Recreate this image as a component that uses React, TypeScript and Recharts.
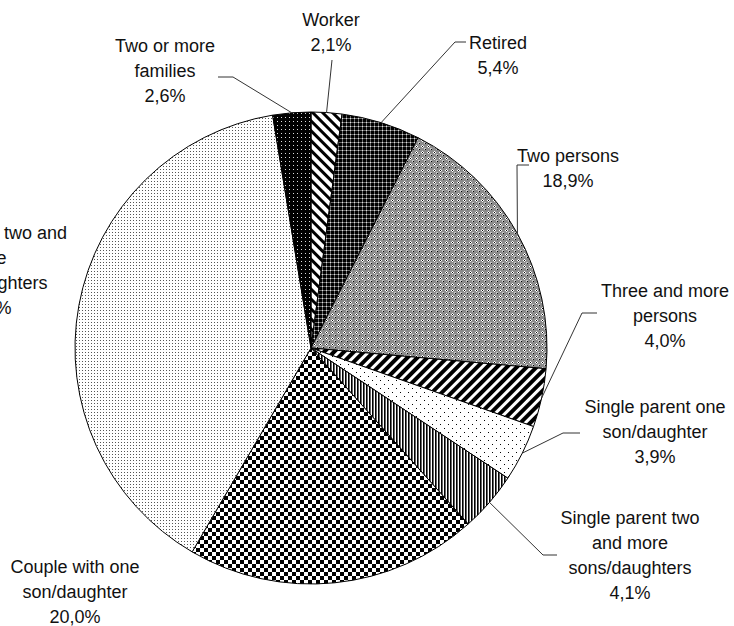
import React from 'react';
import { PieChart, Pie, Cell } from 'recharts';

// Household types, clockwise from twelve o'clock
const categories = [
  'Worker',
  'Retired',
  'Two persons',
  'Three and more persons',
  'Single parent one son/daughter',
  'Single parent two and more sons/daughters',
  'Couple with one son/daughter',
  'Couple with two and more sons/daughters',
  'Two or more families',
];

// Share of households, in percent
const shares = [2.1, 5.4, 18.9, 4.0, 3.9, 4.1, 20.0, 39.0, 2.6];

// How each category name is broken over lines in its label
const labelLines = [
  ['Worker'],
  ['Retired'],
  ['Two persons'],
  ['Three and more', 'persons'],
  ['Single parent one', 'son/daughter'],
  ['Single parent two', 'and more', 'sons/daughters'],
  ['Couple with one', 'son/daughter'],
  ['Couple with two and', 'more', 'sons/daughters'],
  ['Two or more', 'families'],
];

// Fill pattern of each slice (ids of the <pattern> defs below)
const fills = [
  'url(#pWorker)',
  'url(#pRetired)',
  'url(#pTwoPersons)',
  'url(#pThreeMore)',
  'url(#pSingleOne)',
  'url(#pSingleTwo)',
  'url(#pCoupleOne)',
  'url(#pCoupleTwo)',
  'url(#pFamilies)',
];

// Label placement: text centre x, centre y of first line, and leader elbow points
type Layout = { x: number; y: number; leader: [number, number][] | null };
const labelLayout: Layout[] = [
  { x: 331, y: 19, leader: [[332, 60]] },
  { x: 498, y: 42, leader: [[455, 42], [466, 42]] },
  { x: 568, y: 155, leader: [[517, 165], [529, 165]] },
  { x: 665, y: 290, leader: [[582, 313], [597, 313]] },
  { x: 655, y: 406, leader: [[563, 433], [580, 433]] },
  { x: 630, y: 517, leader: [[543, 555], [557, 555]] },
  { x: 75, y: 566, leader: null },
  { x: -14, y: 232, leader: null },
  { x: 165, y: 45, leader: [[233, 77], [218, 77]] },
];

const FONT = '"Liberation Sans", Arial, sans-serif';
const FONT_SIZE = 18;
const LINE_GAP = 25.2;

const data = categories.map((name, i) => ({ name, value: shares[i] }));

const formatShare = (v: number) => v.toFixed(1).replace('.', ',') + '%';

const RAD = Math.PI / 180;

function renderLabel(props: any) {
  const { cx, cy, midAngle, outerRadius, index } = props;
  const value = typeof props.value === 'number' ? props.value : shares[index];
  const lay = labelLayout[index];
  const lines = [...labelLines[index], formatShare(value)];
  const ex = cx + outerRadius * Math.cos(-midAngle * RAD);
  const ey = cy + outerRadius * Math.sin(-midAngle * RAD);
  let points = '';
  if (lay.leader) {
    points = [[ex, ey], ...lay.leader].map((p) => `${p[0]},${p[1]}`).join(' ');
  }
  return (
    <g key={`label-${index}`}>
      {lay.leader && (
        <polyline points={points} fill="none" stroke="#333" strokeWidth={1} />
      )}
      {lines.map((t, k) => (
        <text
          key={k}
          x={lay.x}
          y={lay.y + k * LINE_GAP + 6.5}
          textAnchor="middle"
          fontFamily={FONT}
          fontSize={FONT_SIZE}
          fill="#111"
        >
          {t}
        </text>
      ))}
    </g>
  );
}

export default function App() {
  return (
    <div style={{ position: 'absolute', left: 0, top: 0, width: 734, height: 626, background: '#fff' }}>
      <PieChart width={734} height={626} margin={{ top: 0, right: 0, bottom: 0, left: 0 }}>
        <defs>
          <pattern id="pWorker" patternUnits="userSpaceOnUse" width="7" height="7" patternTransform="rotate(-45)">
            <rect width="7" height="7" fill="#fff" />
            <rect width="3" height="7" fill="#000" />
          </pattern>
          <pattern id="pThreeMore" patternUnits="userSpaceOnUse" width="7" height="7" patternTransform="rotate(45)">
            <rect width="7" height="7" fill="#fff" />
            <rect width="4" height="7" fill="#000" />
          </pattern>
          <pattern id="pRetired" patternUnits="userSpaceOnUse" width="4" height="4">
            <rect width="4" height="4" fill="#000" />
            <rect x="0" y="2" width="4" height="1" fill="#6a6a6a" />
            <rect x="2" y="0" width="1" height="4" fill="#6a6a6a" />
            <rect x="2" y="2" width="1" height="1" fill="#e0e0e0" />
          </pattern>
          <pattern id="pTwoPersons" patternUnits="userSpaceOnUse" width="6" height="6">
            <rect width="6" height="6" fill="#8c8c8c" />
            <rect x="1" y="2" width="3" height="1" fill="#fff" />
            <rect x="2" y="1" width="1" height="3" fill="#fff" />
            <rect x="2" y="2" width="1" height="1" fill="#000" />
            <rect x="4" y="4" width="2" height="2" fill="#c8c8c8" />
            <rect x="5" y="5" width="1" height="1" fill="#000" />
          </pattern>
          <pattern id="pSingleOne" patternUnits="userSpaceOnUse" width="8" height="8">
            <rect width="8" height="8" fill="#fff" />
            <rect x="0" y="0" width="1" height="1" fill="#000" />
            <rect x="4" y="4" width="1" height="1" fill="#000" />
          </pattern>
          <pattern id="pSingleTwo" patternUnits="userSpaceOnUse" width="3" height="3">
            <rect width="3" height="3" fill="#fff" />
            <rect width="1.6" height="3" fill="#000" />
          </pattern>
          <pattern id="pCoupleOne" patternUnits="userSpaceOnUse" width="8" height="8">
            <rect width="8" height="8" fill="#fff" />
            <rect x="0" y="0" width="4" height="4" fill="#000" />
            <rect x="4" y="4" width="4" height="4" fill="#000" />
          </pattern>
          <pattern id="pCoupleTwo" patternUnits="userSpaceOnUse" width="3" height="3">
            <rect width="3" height="3" fill="#fff" />
            <rect x="1" y="1" width="1" height="1" fill="#555" />
          </pattern>
          <pattern id="pFamilies" patternUnits="userSpaceOnUse" width="4" height="4">
            <rect width="4" height="4" fill="#000" />
            <rect x="1" y="1" width="1" height="1" fill="#ddd" />
          </pattern>
        </defs>
        <Pie
          data={data}
          dataKey="value"
          nameKey="name"
          cx={311}
          cy={348}
          outerRadius={236}
          startAngle={90}
          endAngle={-270}
          stroke="#000"
          strokeWidth={1}
          label={renderLabel}
          labelLine={false}
          isAnimationActive={false}
        >
          {data.map((d, i) => (
            <Cell key={d.name} fill={fills[i]} />
          ))}
        </Pie>
      </PieChart>
    </div>
  );
}
